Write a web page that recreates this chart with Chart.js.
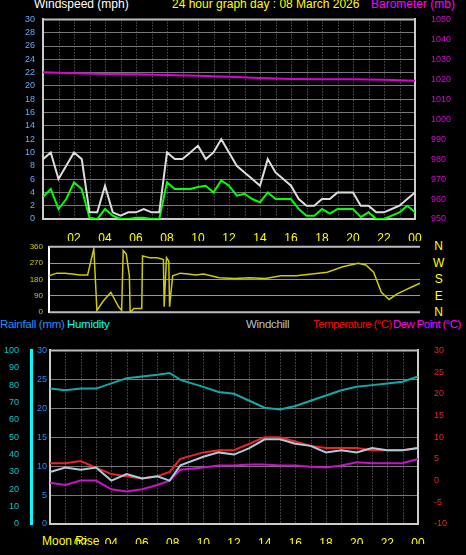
<!DOCTYPE html>
<html><head><meta charset="utf-8">
<script src="https://cdn.jsdelivr.net/npm/chart.js@4/dist/chart.umd.min.js"></script>
<style>
body{margin:0;background:#000;width:466px;height:555px;overflow:hidden;position:relative;font-family:"Liberation Sans",Arial,sans-serif}
canvas{position:absolute}
.t{position:absolute;font-size:12px;white-space:nowrap}
.l{font-size:11.5px;letter-spacing:-0.3px}
</style></head><body>
<div class="t" style="left:34px;top:-3px;color:#fff">Windspeed (mph)</div>
<div class="t" style="left:172px;top:-3px;color:#ff0">24 hour graph day : 08 March 2026</div>
<div class="t" style="left:371px;top:-3px;color:#f0f">Barometer (mb)</div>
<div class="t l" style="left:0;top:318px;color:#1e90ff">Rainfall (mm)</div>
<div class="t l" style="left:67px;top:318px;color:#0ff">Humidity</div>
<div class="t l" style="left:246px;top:318px;color:#b0c4de">Windchill</div>
<div class="t l" style="left:313px;top:318px;color:#f00;letter-spacing:-0.6px">Temperature (°C)</div>
<div class="t l" style="left:393px;top:318px;color:#f0f;letter-spacing:-0.6px">Dew Point (°C)</div>
<div class="t" style="left:42px;top:534px;color:#ff0">Moon Rise</div>
<div style="position:absolute;left:433px;top:238px;color:#ff0;font-size:12px;line-height:16.5px;text-align:center">N<br>W<br>S<br>E<br>N</div>
<canvas id="c1" style="left:0;top:6px"></canvas>
<canvas id="c2" style="left:0;top:236px"></canvas>
<canvas id="c3" style="left:0;top:337px"></canvas>
<script>
const hourTicks = [2, 4, 6, 8, 10, 12, 14, 16, 18, 20, 22, 24];
const hourLabels = ['02','04','06','08','10','12','14','16','18','20','22','00'];

const windHours = [0,0.5,1,1.5,2,2.5,3,3.5,4,4.5,5,5.5,6,6.5,7,7.5,8,8.5,9,9.5,10,10.5,11,11.5,12,12.5,13,13.5,14,14.5,15,15.5,16,16.5,17,17.5,18,18.5,19,19.5,20,20.5,21,21.5,22,22.5,23,23.5,24];
const windAvg = [3.3,4.5,1.5,3,5.5,4.5,0.2,0,1.5,0.5,0,0,0.2,0.2,0,0,5.5,4.5,4.5,4.5,4.8,5,4,5.8,5,3.5,3.8,3,2.5,4,3,3,3,1.5,0.5,0.5,1.5,0.8,1.5,1.5,1.5,0.3,1,0,0,0.5,1,2,1];
const windGust = [9,10,6,8,10,9,1,1,5,1,0.5,1,1,1.5,1,1,10,9,9,10,11,9,10,12,10,8,7,6,5,9,7,6,5,3,2,2,3,3,4,4,4,2,2,1,1,1.5,2,3,4];
const pressHours = [0,2,4,6,8,10,12,14,16,18,20,22,24];
const pressure = [1023.5,1023,1022.7,1022.5,1022.2,1021.8,1021.3,1020.7,1020.2,1020,1020,1019.8,1019.3];

const dirHours = [0,0.5,1,1.5,2,2.5,2.9,3.1,3.5,4,4.5,4.7,4.8,5,5.2,5.25,5.5,6,6.05,6.5,7,7.4,7.45,7.6,7.75,7.8,8,8.5,9,9.5,10,11,12,13,14,15,16,17,18,19,20,20.5,21,21.5,22,22.5,23,23.5,24];
const windDir = [200,215,215,210,205,205,350,10,60,110,30,10,340,320,200,0,20,20,310,300,300,290,30,300,280,30,200,215,210,205,210,190,185,190,185,200,200,210,220,250,270,260,220,110,70,100,120,140,160];

const tHours = [0,1,2,3,4,5,6,7,7.8,8.5,10,11,12,13,14,15,16,17,18,19,20,21,22,23,24];
const temperature = [4,4,4.5,3,1.5,1,0.5,1,2,5,6.5,7,7,8.5,10,10,9,8,7.5,7.5,7.5,7,7,7,7.5];
const dewPoint = [-0.5,-1,0,0,-2,-2.5,-2,-1,0,2.5,3,3.5,3.5,3.7,3.7,3.5,3.5,3.2,3,3.5,4.2,4,4,4,5];
const windChill = [2,3,2.5,3,0,1.5,0.5,1,0,3.5,5.5,6.5,6,7.5,9.5,9.5,8.5,8,6.5,7,6.5,7.5,7,7,7.5];
const humidity = [78,77,78,78,81,84,85,86,87,83,79,76,75,71,67,66,68,71,74,77,79,80,81,82,85];
const rainfall = [0,0,0,0,0,0,0,0,0,0,0,0,0,0,0,0,0,0,0,0,0,0,0,0,0];

Chart.defaults.font.family = '"Liberation Sans", Arial, sans-serif';
Chart.defaults.font.size = 9;
Chart.defaults.animation = false;
Chart.defaults.plugins.legend.display = false;
Chart.defaults.plugins.tooltip.enabled = false;

function pts(xs, ys) { return xs.map((x, i) => ({x: x, y: ys[i]})); }
function fixW(w) { return function(s) { s.width = w; }; }
function fixH(h) { return function(s) { s.height = h; }; }
function steps(a, b, d) { return s => { s.ticks = []; for (let v = a; v <= b; v += d) s.ticks.push({value: v}); }; }
const plain = v => String(v);
const dotGrid = {color: '#777', borderDash: [1, 2], drawTicks: false};

function xAxis(show, h) {
  return {
    type: 'linear', min: 0, max: 24, afterFit: fixH(h),
    afterBuildTicks: s => { s.ticks = (show ? hourTicks : []).map(v => ({value: v})); },
    ticks: {display: show, color: '#ff0', font: {size: 12}, padding: 4, autoSkip: false,
      callback: v => hourLabels[hourTicks.indexOf(v)]},
    grid: {display: false}, border: {color: '#ccc', width: 2}
  };
}
function yAxis(pos, a, b, d, w, color, extra) {
  return Object.assign({position: pos, min: a, max: b, afterFit: fixW(w), afterBuildTicks: steps(a, b, d),
    ticks: {color: color, padding: 8, autoSkip: false, callback: plain},
    grid: {display: false}, border: {color: '#ccc', width: 2}}, extra || {});
}
function line(data, color, w, axis) {
  return {data: data, borderColor: color, borderWidth: w, pointRadius: 0, yAxisID: axis, tension: 0};
}
const hourGrid = {
  id: 'hourGrid',
  beforeDatasetsDraw(c) {
    const a = c.chartArea, x = c.scales.x, g = c.ctx;
    g.save(); g.strokeStyle = '#777'; g.setLineDash([1, 2]); g.lineWidth = 1;
    for (let h = 1; h < 24; h++) { const px = Math.round(x.getPixelForValue(h)) + 0.5; g.beginPath(); g.moveTo(px, a.top); g.lineTo(px, a.bottom); g.stroke(); }
    g.restore();
  }
};
const frame = {
  id: 'frame',
  afterDraw(c, args, o) {
    const a = c.chartArea, g = c.ctx;
    g.save(); g.strokeStyle = '#bbb'; g.lineWidth = 2;
    g.beginPath(); g.moveTo(a.left, a.top); g.lineTo(a.right, a.top); g.stroke();
    if (o.bottom) { g.beginPath(); g.moveTo(a.left, a.bottom); g.lineTo(a.right, a.bottom); g.stroke(); }
    g.restore();
  }
};

function mk(id, w, h, cfg) {
  const el = document.getElementById(id); el.width = w; el.height = h; el.style.width = w + 'px'; el.style.height = h + 'px';
  cfg.options = Object.assign({responsive: false}, cfg.options);
  return new Chart(el, cfg);
}

mk('c1', 466, 235, {
  type: 'line',
  data: {datasets: [
    line(pts(windHours, windGust), '#ddd', 2, 'y'),
    line(pts(windHours, windAvg), '#0f0', 2, 'y'),
    line(pts(pressHours, pressure), '#d0d', 2, 'y1')
  ]},
  plugins: [hourGrid, frame],
  options: {
    layout: {padding: {top: 5}},
    scales: {
      x: xAxis(true, 22),
      y: yAxis('left', 0, 30, 2, 43, '#6af', {grid: dotGrid}),
      y1: yAxis('right', 950, 1050, 10, 51, '#d0d')
    }
  }
});

mk('c2', 466, 87, {
  type: 'line',
  data: {datasets: [line(pts(dirHours, windDir), '#cc0', 1.5, 'y')]},
  plugins: [frame],
  options: {
    layout: {padding: {top: 5, bottom: 5}},
    plugins: {frame: {bottom: true}},
    scales: {
      x: Object.assign(xAxis(false, 1), {display: false}),
      y: yAxis('left', 0, 360, 90, 49, '#cc0', {grid: Object.assign({}, dotGrid, {color: '#999'}), border: {color: '#fff', width: 2}, ticks: {color: '#cc0', font: {size: 8}, padding: 6, autoSkip: false, callback: plain}}),
      y1: yAxis('right', 0, 360, 90, 46, '#000', {ticks: {display: false}, border: {display: false}})
    }
  }
});

mk('c3', 466, 207, {
  type: 'line',
  data: {datasets: [
    line(pts(tHours, rainfall), '#1e6fd0', 3, 'r'),
    line(pts(tHours, humidity), '#1aa', 2, 'h'),
    line(pts(tHours, windChill), '#acd', 2, 't'),
    line(pts(tHours, temperature), '#e22', 2, 't'),
    line(pts(tHours, dewPoint), '#c1c', 2, 't')
  ]},
  plugins: [hourGrid, frame],
  options: {
    layout: {padding: {top: 5}},
    scales: {
      x: xAxis(true, 20),
      r: yAxis('left', 0, 30, 5, 19, '#1e90ff', {grid: dotGrid, ticks: {color: '#1e90ff', padding: 3, autoSkip: false, callback: plain}}),
      h: yAxis('left', 0, 100, 10, 31, '#0cc', {border: {color: '#0ff', width: 3}, ticks: {color: '#0cc', padding: 4, autoSkip: false, callback: plain}}),
      t: yAxis('right', -10, 30, 5, 48, '#e22')
    }
  }
});
</script>
</body></html>
